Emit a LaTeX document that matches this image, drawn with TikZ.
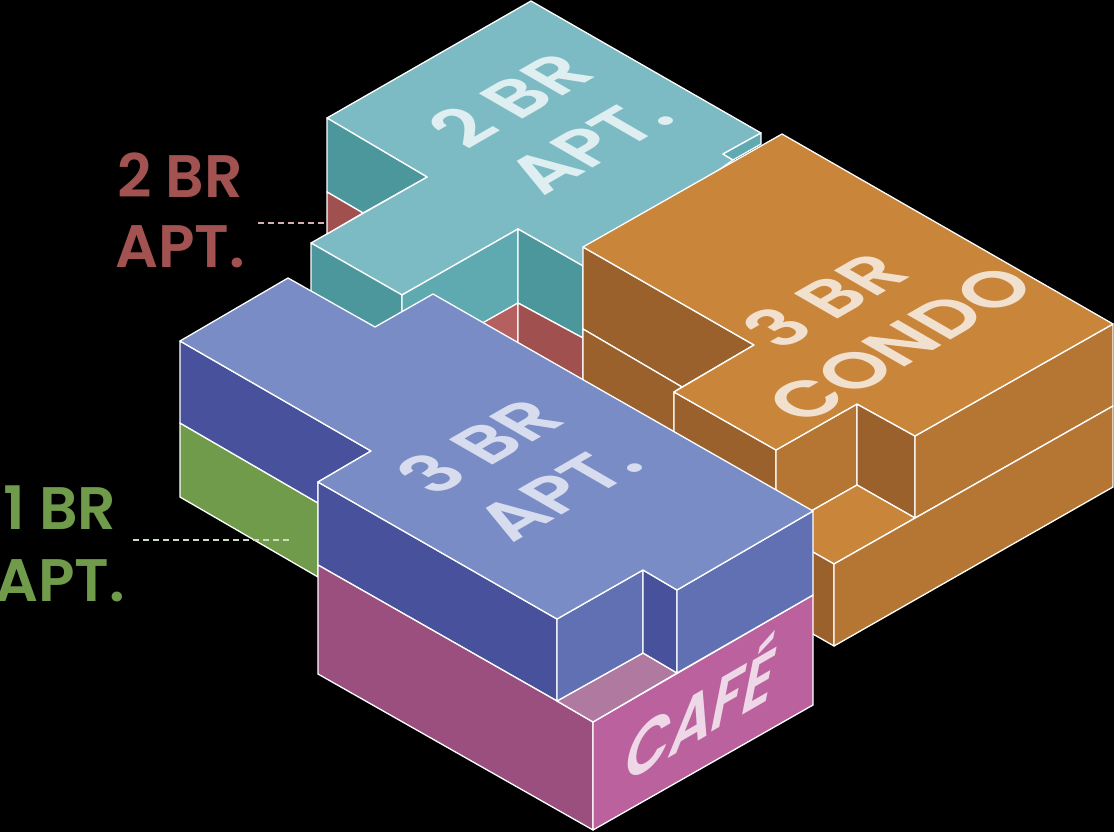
\documentclass[tikz,border=0pt]{standalone}
\usepackage{fontspec}
\newfontfamily\labelfont{Poppins SemiBold}
\usepackage{xcolor}
\definecolor{tealtop}{HTML}{7DBBC4}
\definecolor{tealdark}{HTML}{4B979C}
\definecolor{tealmid}{HTML}{5FAAB1}
\definecolor{reddark}{HTML}{A0504F}
\definecolor{redlight}{HTML}{B56060}
\definecolor{orangetop}{HTML}{C98539}
\definecolor{orangedark}{HTML}{9B612D}
\definecolor{orangemid}{HTML}{B57634}
\definecolor{bluetop}{HTML}{798CC5}
\definecolor{bluedark}{HTML}{48529C}
\definecolor{bluemid}{HTML}{6070B3}
\definecolor{pinkdark}{HTML}{9B4F7F}
\definecolor{pinkface}{HTML}{BA619E}
\definecolor{pinkfloor}{HTML}{B07AA0}
\definecolor{leafgreen}{HTML}{6F9B4B}
\definecolor{redlabel}{HTML}{A25251}
\begin{document}
\begin{tikzpicture}[x=1pt,y=-1pt,
face/.style={draw=white,line width=1.3pt,line join=round},
toptext/.style 2 args={font=\labelfont\fontsize{#1}{#2}\selectfont,align=center,cm={.866,.5,-.866,.5,(0,0)},inner sep=0pt},
sidetext/.style 2 args={font=\labelfont\fontsize{#1}{#2}\selectfont,align=center,inner sep=0pt},
leader/.style={line width=2.5pt,dash pattern=on 6pt off 4pt}]
\useasboundingbox (0,0) rectangle (1114,832);
\fill[black] (0,0) rectangle (1114,832);
\draw[face,fill=tealtop] (531,1)--(761,133)--(723,154)--(733,160)--(583,266)--(518,229)--(402,295)--(311,243)--(427,177)--(327,118)--cycle;
\draw[face,fill=tealmid] (761,133)--(761,144)--(733,160)--(723,154)--cycle;
\draw[face,fill=tealdark] (327,118)--(427,177)--(363,213)--(327,192)--cycle;
\draw[face,fill=reddark] (327,192)--(363,213)--(327,234)--cycle;
\draw[face,fill=tealdark] (311,243)--(402,295)--(402,320)--(375,335)--(311,300)--cycle;
\draw[face,fill=tealmid] (402,295)--(518,229)--(518,303)--(402,370)--cycle;
\draw[face,fill=tealdark] (518,229)--(583,266)--(583,338)--(518,303)--cycle;
\draw[face,fill=redlight] (518,303)--(518,350)--(470,330)--cycle;
\draw[face,fill=reddark] (518,303)--(583,338)--(583,390)--(518,350)--cycle;
\draw[face,fill=orangedark] (583,247)--(754,345)--(682,387)--(583,329)--cycle;
\draw[face,fill=orangedark] (583,329)--(682,387)--(674,392)--(674,445)--(583,395)--cycle;
\draw[face,fill=orangedark] (674,392)--(776,450)--(776,510)--(674,445)--cycle;
\draw[face,fill=orangemid] (776,450)--(857,404)--(857,485)--(776,531)--cycle;
\draw[face,fill=orangedark] (857,404)--(915,436)--(915,518)--(857,485)--cycle;
\draw[face,fill=orangetop] (857,485)--(915,518)--(834,564)--(776,531)--cycle;
\draw[face,fill=orangedark] (776,531)--(834,564)--(834,646)--(776,613)--cycle;
\draw[face,fill=orangemid] (915,436)--(1113,324)--(1113,406)--(915,518)--cycle;
\draw[face,fill=orangemid] (834,564)--(1113,406)--(1113,487)--(834,646)--cycle;
\draw[face,fill=orangetop] (782,134)--(1113,324)--(915,436)--(857,404)--(776,450)--(674,392)--(754,345)--(583,247)--cycle;
\draw[face,fill=leafgreen] (180,423)--(318,503)--(318,577)--(180,497)--cycle;
\draw[face,fill=bluedark] (180,341)--(371,451)--(318,482)--(318,503)--(180,423)--cycle;
\draw[face,fill=bluedark] (318,482)--(557,619)--(557,701)--(318,565)--cycle;
\draw[face,fill=pinkdark] (318,565)--(557,701)--(593,722)--(593,830)--(318,674)--cycle;
\draw[face,fill=pinkface] (593,722)--(813,595)--(813,705)--(593,830)--cycle;
\draw[face,fill=pinkfloor] (557,701)--(643,653)--(677,673)--(593,722)--cycle;
\draw[face,fill=bluemid] (557,619)--(643,570)--(643,653)--(557,701)--cycle;
\draw[face,fill=bluedark] (643,570)--(677,590)--(677,673)--(643,653)--cycle;
\draw[face,fill=bluemid] (677,590)--(813,511)--(813,595)--(677,673)--cycle;
\draw[face,fill=bluetop] (288,278)--(375,327)--(433,294)--(813,511)--(677,590)--(643,570)--(557,619)--(318,482)--(371,451)--(180,341)--cycle;
\node[toptext={72}{90},text=white!75!tealtop] (tealname) at (549,122) {2 BR\\APT.};
\node[toptext={72}{86},text=white!75!orangetop] (condoname) at (862,322) {3 BR\\CONDO};
\node[toptext={72}{90},text=white!70!bluetop] (bluename) at (518,469) {3 BR\\APT.};
\node[sidetext={78}{90},text=white!75!pinkface,cm={.75,.433,.2,1,(0,0)}] (cafename) at (703,705) {CAFÉ};
\node[sidetext={60}{70},text=redlabel] (redname) at (180,210) {2 BR\\APT.};
\node[sidetext={60}{72},text=leafgreen] (greenname) at (60,544) {1 BR\\APT.};
\coordinate (redstart) at (258,223);
\coordinate (redend) at (327,223);
\coordinate (greenstart) at (133,540);
\coordinate (greenend) at (290,540);
\draw[leader,color=redlabel!45!white] (redstart)--(redend);
\draw[leader,color=leafgreen!35!white] (greenstart)--(greenend);
\end{tikzpicture}
\end{document}
